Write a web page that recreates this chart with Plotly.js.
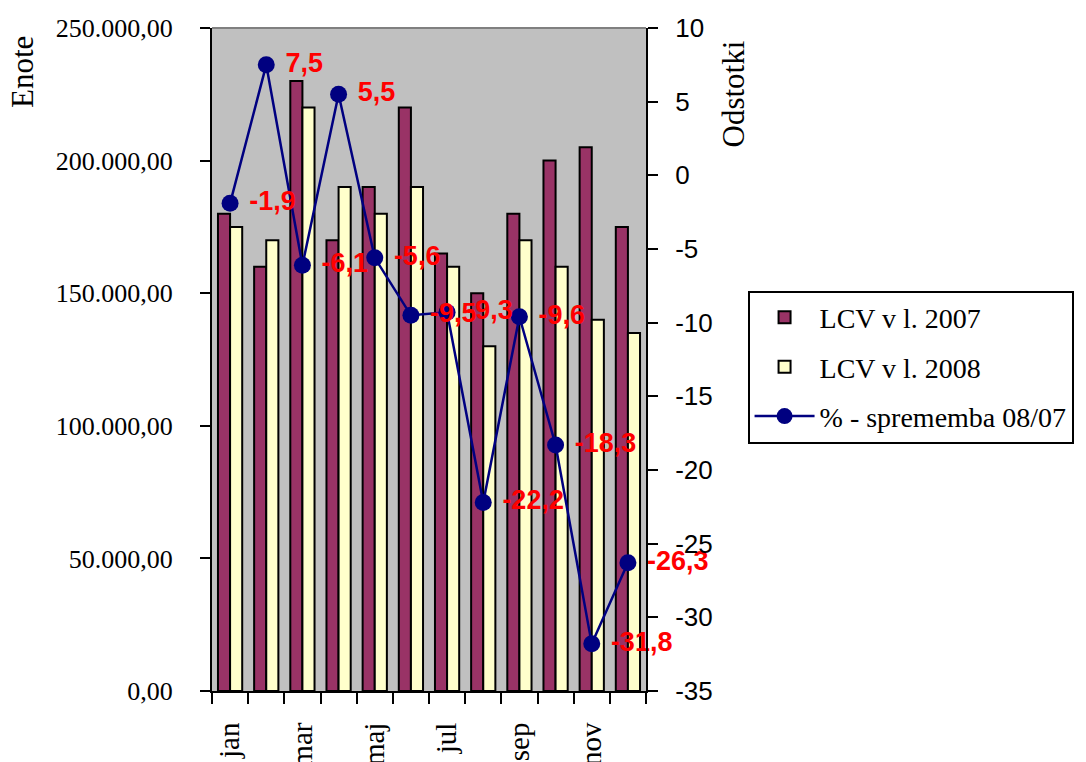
<!DOCTYPE html>
<html>
<head>
<meta charset="utf-8">
<script src="https://cdn.plot.ly/plotly-3.0.1.min.js"></script>
<style>html,body{margin:0;padding:0;background:#fff;}#chart{width:1086px;height:762px;}</style>
</head>
<body>
<div id="chart"></div>
<script>
const months = ['jan','feb','mar','apr','maj','jun','jul','avg','sep','okt','nov','dec'];
const monthTickText = ['jan','','mar','','maj','','jul','','sep','','nov',''];
const lcv2007 = [180000,160000,230000,170000,190000,220000,165000,150000,180000,200000,205000,175000];
const lcv2008 = [175000,170000,220000,190000,180000,190000,160000,130000,170000,160000,140000,135000];
const pctChange = [-1.9,7.5,-6.1,5.5,-5.6,-9.5,-9.3,-22.2,-9.6,-18.3,-31.8,-26.3];
const pctTickVals = [10,5,0,-5,-10,-15,-20,-25,-30,-35];
const pctTickText = ['10','5','0','-5','-10','-15','-20','-25','-30','-35'];
const seriesNames = ['LCV v l. 2007','LCV v l. 2008','% - sprememba 08/07'];

const pctLabels = pctChange.map(v => '\u00a0' + v.toFixed(1).replace('.', ','));

const serif = 'Liberation Serif, Times New Roman, serif';
const sans = 'Liberation Sans, Arial, sans-serif';

const traces = [
  {type:'bar', name:seriesNames[0], x:months, y:lcv2007, yaxis:'y', legendgroup:'a',
   marker:{color:'#993366', line:{color:'#000000', width:2}}},
  {type:'bar', name:seriesNames[1], x:months, y:lcv2008, yaxis:'y', legendgroup:'b',
   marker:{color:'#FFFFCC', line:{color:'#000000', width:2}}},
  {type:'scatter', name:seriesNames[2], x:months, y:pctChange, yaxis:'y2', legendgroup:'c',
   mode:'lines+markers+text', text:pctLabels, textposition:'middle right',
   textfont:{family:sans, size:27, color:'#FF0000', weight:'bold'},
   line:{color:'#000080', width:2.5}, marker:{color:'#000080', size:17},
   cliponaxis:false}
];

const layout = {
  width:1086, height:762,
  margin:{l:212, r:438, t:28, b:71},
  paper_bgcolor:'#FFFFFF', plot_bgcolor:'#C0C0C0',
  separators:',.',
  barmode:'group', bargap:0.33, bargroupgap:0,
  showlegend:true,
  legend:{x:1.234, y:0.604, xanchor:'left', yanchor:'top',
    bgcolor:'#FFFFFF', bordercolor:'#000000', borderwidth:2,
    font:{family:serif, size:28, color:'#000000'}, itemwidth:60,
    traceorder:'grouped', tracegroupgap:10},
  xaxis:{type:'category', range:[-0.5, 11.5], tickmode:'array', tickvals:months, ticktext:monthTickText,
    tickson:'boundaries', ticks:'outside', ticklen:11, tickwidth:2, tickcolor:'#000',
    showline:true, linecolor:'#000', linewidth:2, showgrid:false, tickangle:-90,
    ticklabelstandoff:18,
    tickfont:{family:serif, size:29, color:'#000'}},
  yaxis:{range:[0,250000], tickmode:'linear', tick0:0, dtick:50000, tickformat:',.2f',
    ticks:'outside', ticklen:10, tickwidth:2, tickcolor:'#000',
    showline:true, linecolor:'#000', linewidth:2, showgrid:false, zeroline:false,
    ticklabelstandoff:22,
    tickfont:{family:serif, size:26, color:'#000'}},
  yaxis2:{range:[-35,10], overlaying:'y', side:'right', tickmode:'array',
    tickvals:pctTickVals, ticktext:pctTickText,
    ticks:'outside', ticklen:10, tickwidth:2, tickcolor:'#000',
    showline:true, linecolor:'#000', linewidth:2, showgrid:false, zeroline:false,
    ticklabelstandoff:12,
    tickfont:{family:sans, size:26, color:'#000'}},
  shapes:[{type:'line', xref:'paper', yref:'paper', x0:0, x1:1, y0:1, y1:1,
    line:{color:'#808080', width:2}}],
  annotations:[
    {text:'Enote', xref:'paper', yref:'paper', x:0, y:1, xshift:-190, yshift:-6,
     xanchor:'center', yanchor:'top', textangle:-90, showarrow:false,
     font:{family:serif, size:31, color:'#000'}},
    {text:'Odstotki', xref:'paper', yref:'paper', x:1, y:1, xshift:87, yshift:-11,
     xanchor:'center', yanchor:'top', textangle:-90, showarrow:false,
     font:{family:serif, size:31, color:'#000'}}
  ]
};

Plotly.newPlot('chart', traces, layout, {staticPlot:true, displayModeBar:false});
</script>
</body>
</html>
